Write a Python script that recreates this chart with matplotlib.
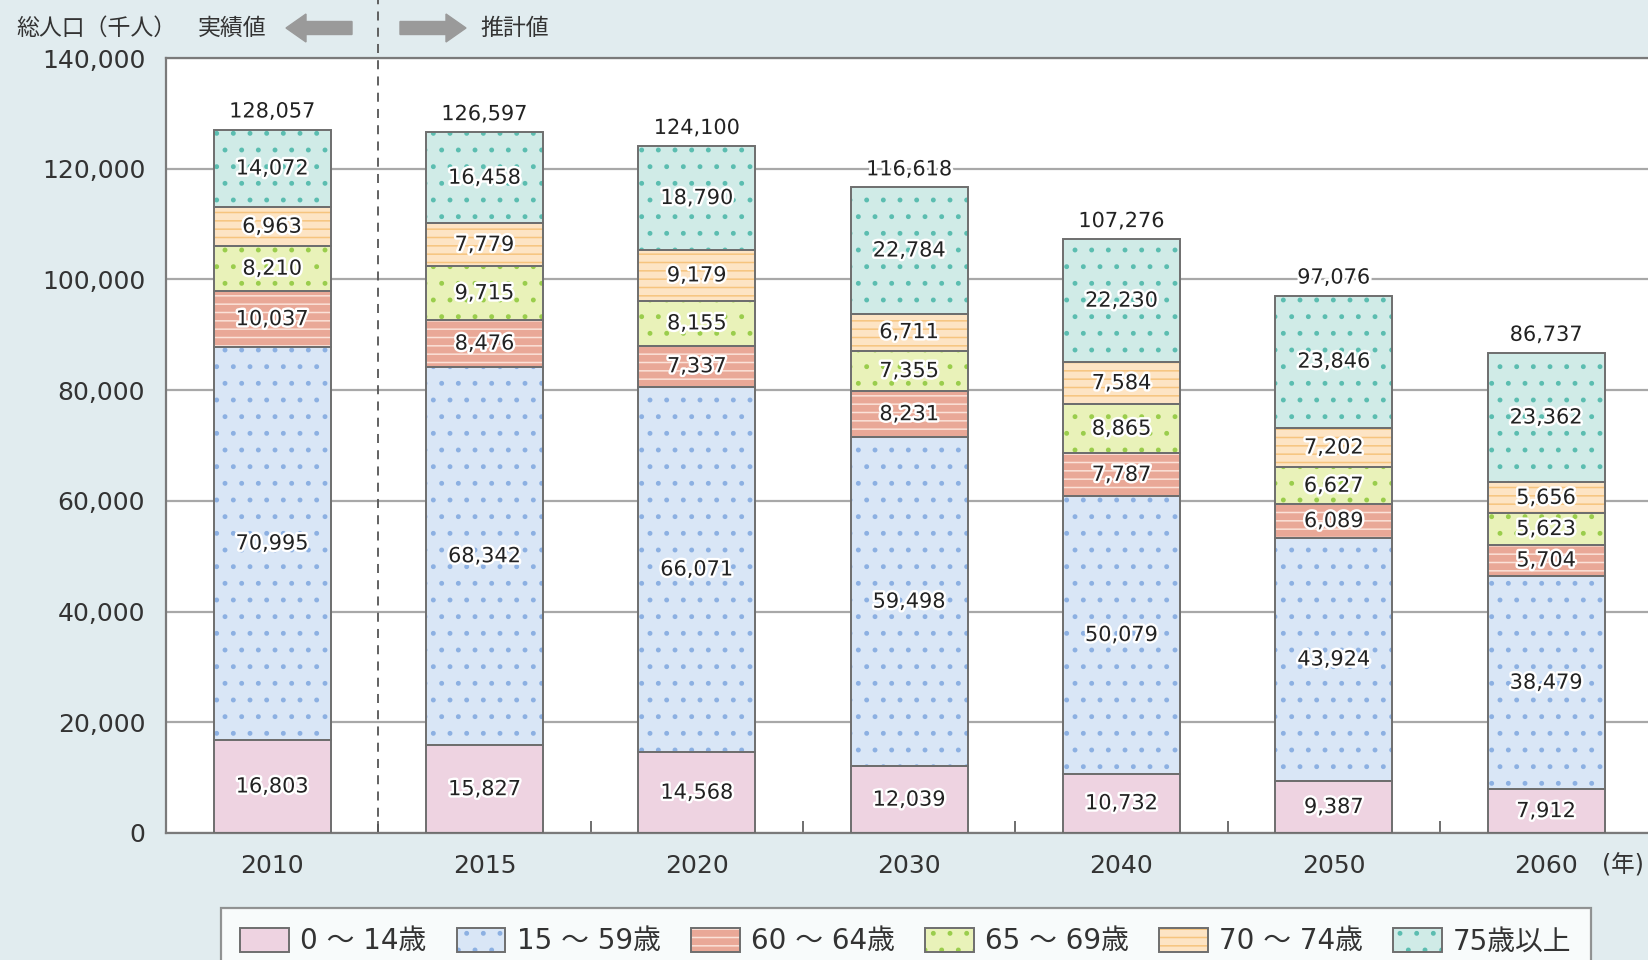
import numpy as np
import matplotlib
matplotlib.use("Agg")
import matplotlib.pyplot as plt
import matplotlib.patheffects as pe
import matplotlib.transforms as mtransforms
from matplotlib.patches import Patch, FancyArrow
from matplotlib.legend_handler import HandlerTuple

plt.rcParams['font.family'] = ['DejaVu Sans', 'Noto Sans CJK JP']
plt.rcParams['hatch.linewidth'] = 1.1

years = ["2010", "2015", "2020", "2030", "2040", "2050", "2060"]
age_labels = ["0 ～ 14歳", "15 ～ 59歳", "60 ～ 64歳", "65 ～ 69歳", "70 ～ 74歳", "75歳以上"]
age_0_14 = [16803, 15827, 14568, 12039, 10732, 9387, 7912]
age_15_59 = [70995, 68342, 66071, 59498, 50079, 43924, 38479]
age_60_64 = [10037, 8476, 7337, 8231, 7787, 6089, 5704]
age_65_69 = [8210, 9715, 8155, 7355, 8865, 6627, 5623]
age_70_74 = [6963, 7779, 9179, 6711, 7584, 7202, 5656]
age_75_up = [14072, 16458, 18790, 22784, 22230, 23846, 23362]
totals = [128057, 126597, 124100, 116618, 107276, 97076, 86737]

series = [age_0_14, age_15_59, age_60_64, age_65_69, age_70_74, age_75_up]
faces = ["#eed3e1", "#d9e6f6", "#e9a897", "#e9f2b9", "#fde4c4", "#d0ebe7"]
hatch_cols = ["#eed3e1", "#8cb0e2", "#fbe2d8", "#9acd4c", "#f6c47e", "#5bbdb0"]
hatches = [None, ".", "--", ".", "--", "."]

bg = "#e1ecef"
W, H = 1649, 960
fig = plt.figure(figsize=(W / 100, H / 100), dpi=100, facecolor=bg)
ax = fig.add_axes([166 / W, 1 - 833 / H, 1.002 - 166 / W, (833 - 58) / H])
ax.set_facecolor("white")

x = np.arange(len(years))
width = 0.55
bottom = np.zeros(len(years))
handles = []
for vals, fc, hc, ht, lab in zip(series, faces, hatch_cols, hatches, age_labels):
    vals = np.array(vals, dtype=float)
    ax.bar(x, vals, width, bottom=bottom, color=fc, edgecolor=hc, hatch=ht,
           linewidth=0, zorder=2)
    ax.bar(x, vals, width, bottom=bottom, facecolor="none", edgecolor="#6e6e6e",
           linewidth=1.4, zorder=3)
    for xi, b, v in zip(x, bottom, vals):
        ax.text(xi, b + v / 2, f"{int(v):,}", ha="center", va="center",
                fontsize=15, color="#222222", zorder=5,
                path_effects=[pe.withStroke(linewidth=3.5, foreground="white")])
    handles.append((Patch(facecolor=fc, edgecolor=hc, hatch=ht, linewidth=0),
                    Patch(facecolor="none", edgecolor="#6e6e6e", linewidth=1.4)))
    bottom += vals

for xi, top, tot in zip(x, bottom, totals):
    ax.annotate(f"{tot:,}", (xi, top), xytext=(0, 13), textcoords="offset points",
                ha="center", va="center", fontsize=15, color="#222222", zorder=5,
                path_effects=[pe.withStroke(linewidth=4, foreground="white")])

ax.set_xlim(-0.5, len(years) - 0.5)
ax.set_ylim(0, 140000)
ax.set_yticks(np.arange(0, 140001, 20000))
ax.set_yticklabels([f"{v:,}" for v in range(0, 140001, 20000)])
ax.yaxis.grid(True, color="#a8a8a8", linewidth=1.6, zorder=0)
ax.set_axisbelow(True)
ax.tick_params(axis="y", length=0, pad=15, labelsize=18, labelcolor="#333333")
ax.set_xticks(x)
ax.set_xticklabels(years)
ax.tick_params(axis="x", length=0, pad=15, labelsize=18, labelcolor="#333333")
ax.set_xticks(x[:-1] + 0.5, minor=True)
ax.tick_params(axis="x", which="minor", direction="in", length=9, width=1.4,
               color="#6e6e6e")
for s in ax.spines.values():
    s.set_color("#7a7a7a")
    s.set_linewidth(1.6)

# boundary between actual and projected values
trans = mtransforms.blended_transform_factory(ax.transData, fig.transFigure)
ax.plot([0.5, 0.5], [1 - 833 / H, 1.0], transform=trans, color="#555555",
        linewidth=1.3, linestyle=(0, (5, 4)), clip_on=False, zorder=1)

fig.text(16 / W, 1 - 28 / H, "総人口（千人）", fontsize=16.5, color="#333333",
         ha="left", va="center")
fig.text(198 / W, 1 - 28 / H, "実績値", fontsize=16.5, color="#333333",
         ha="left", va="center")
fig.text(480 / W, 1 - 28 / H, "推計値", fontsize=16.5, color="#333333",
         ha="left", va="center")
fig.text(1644 / W, 1 - 866 / H, "(年)", fontsize=17, color="#333333",
         ha="right", va="center")

pix = mtransforms.IdentityTransform()
fig.add_artist(FancyArrow(352, H - 28, -66, 0, width=13, head_width=28,
                          head_length=20, length_includes_head=True,
                          color="#9a9a9a", transform=pix))
fig.add_artist(FancyArrow(400, H - 28, 66, 0, width=13, head_width=28,
                          head_length=20, length_includes_head=True,
                          color="#9a9a9a", transform=pix))

leg = fig.legend(handles, age_labels, handler_map={tuple: HandlerTuple(ndivide=1)},
                 loc="upper center", bbox_to_anchor=(906 / W, 1 - 908 / H),
                 ncol=6, fontsize=20, frameon=True, fancybox=False,
                 handlelength=1.75, handleheight=0.95, handletextpad=0.4,
                 columnspacing=1.1, borderpad=0.7, borderaxespad=0)
leg.get_frame().set_edgecolor("#7a7a7a")
leg.get_frame().set_linewidth(1.6)
for t in leg.get_texts():
    t.set_color("#333333")

fig.savefig("out.png", dpi=100, facecolor=bg)
